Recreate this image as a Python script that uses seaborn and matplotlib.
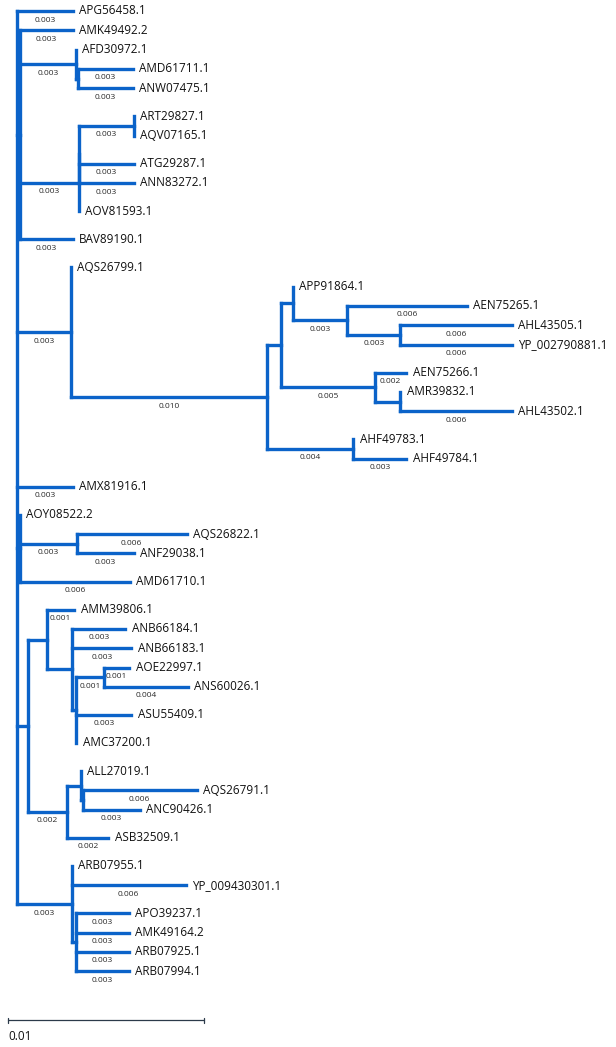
import matplotlib
matplotlib.use("Agg")
import numpy as np
import pandas as pd
import matplotlib.pyplot as plt
import seaborn as sns

# tip order, top to bottom
tips = ["APG56458.1", "AMK49492.2", "AFD30972.1", "AMD61711.1", "ANW07475.1",
        "ART29827.1", "AQV07165.1", "ATG29287.1", "ANN83272.1", "AOV81593.1",
        "BAV89190.1", "AQS26799.1", "APP91864.1", "AEN75265.1", "AHL43505.1",
        "YP_002790881.1", "AEN75266.1", "AMR39832.1", "AHL43502.1", "AHF49783.1",
        "AHF49784.1", "AMX81916.1", "AOY08522.2", "AQS26822.1", "ANF29038.1",
        "AMD61710.1", "AMM39806.1", "ANB66184.1", "ANB66183.1", "AOE22997.1",
        "ANS60026.1", "ASU55409.1", "AMC37200.1", "ALL27019.1", "AQS26791.1",
        "ANC90426.1", "ASB32509.1", "ARB07955.1", "YP_009430301.1", "APO39237.1",
        "AMK49164.2", "ARB07925.1", "ARB07994.1"]

# tips drawn after a wider row gap
wide_gap = ["ART29827.1", "ATG29287.1", "AOV81593.1", "BAV89190.1", "AQS26799.1",
            "AEN75266.1", "AHF49783.1", "AMX81916.1", "AOY08522.2", "AMD61710.1",
            "AMM39806.1", "ASU55409.1", "AMC37200.1", "ALL27019.1", "ASB32509.1",
            "ARB07955.1", "APO39237.1"]

# tree edges: child -> parent with branch length
child = ["APG56458.1", "n_a", "n_aqs", "AMX81916.1", "n_v", "n_w", "n_arb",
         "AMK49492.2", "n_afd", "n_c2", "BAV89190.1",
         "AFD30972.1", "n_afd2", "AMD61711.1", "ANW07475.1",
         "n_c2a", "AOV81593.1", "n_pair", "ATG29287.1", "ANN83272.1",
         "ART29827.1", "AQV07165.1",
         "AQS26799.1", "n_big", "n_p", "n_ahf", "n_q", "n_r",
         "APP91864.1", "n_s", "AEN75265.1", "n_t", "AHL43505.1", "YP_002790881.1",
         "AEN75266.1", "n_u", "AMR39832.1", "AHL43502.1",
         "AHF49783.1", "AHF49784.1",
         "AOY08522.2", "n_v2", "AMD61710.1", "AQS26822.1", "ANF29038.1",
         "n_x", "n_all0", "AMM39806.1", "n_y",
         "ANB66184.1", "ANB66183.1", "n_y1", "n_z", "ASU55409.1", "AMC37200.1",
         "AOE22997.1", "ANS60026.1",
         "n_all", "ASB32509.1", "ALL27019.1", "n_all2", "AQS26791.1", "ANC90426.1",
         "ARB07955.1", "YP_009430301.1", "n_arb2",
         "APO39237.1", "AMK49164.2", "ARB07925.1", "ARB07994.1"]
parent = ["root", "root", "root", "root", "root", "root", "root",
          "n_a", "n_a", "n_a", "n_a",
          "n_afd", "n_afd", "n_afd2", "n_afd2",
          "n_c2", "n_c2", "n_c2a", "n_c2a", "n_c2a",
          "n_pair", "n_pair",
          "n_aqs", "n_aqs", "n_big", "n_big", "n_p", "n_p",
          "n_q", "n_q", "n_s", "n_s", "n_t", "n_t",
          "n_r", "n_r", "n_u", "n_u",
          "n_ahf", "n_ahf",
          "n_v", "n_v", "n_v", "n_v2", "n_v2",
          "n_w", "n_w", "n_x", "n_x",
          "n_y", "n_y", "n_y", "n_y1", "n_y1", "n_y1",
          "n_z", "n_z",
          "n_all0", "n_all0", "n_all", "n_all", "n_all2", "n_all2",
          "n_arb", "n_arb", "n_arb",
          "n_arb2", "n_arb2", "n_arb2", "n_arb2"]
blen = [0.00286, 0.00015, 0.00276, 0.00286, 0.00015, 0.00056, 0.0028,
        0.0027, 0.00286, 0.0030, 0.0027,
        0.0, 0.0001, 0.0028, 0.0028,
        0.0, 0.0, 0.0028, 0.0028, 0.0028,
        0.0, 0.0,
        0.0, 0.0100, 0.0007, 0.0044, 0.0006, 0.0048,
        0.0, 0.0028, 0.0061, 0.0027, 0.0057, 0.0057,
        0.0016, 0.0013, 0.0, 0.0057,
        0.0, 0.0027,
        0.0, 0.0029, 0.0056, 0.0056, 0.0029,
        0.00097, 0.0020, 0.0014, 0.0013,
        0.0027, 0.0030, 0.0002, 0.0014, 0.0028, 0.0,
        0.0013, 0.0043,
        0.0007, 0.0021, 0.0, 0.0001, 0.0058, 0.0029,
        0.0, 0.0058, 0.0002,
        0.0027, 0.0027, 0.0027, 0.0027]

# internal branches drawn without a length label
no_label = ["n_p", "n_q", "n_u", "n_w", "n_x", "n_y", "n_all"]

scale_len = 0.01

PX = 19600.0          # pixels per substitution unit
X0 = 17               # root position in pixels
blue = "#0b63c9"

# ---- layout ----
ypos = {}
y = 11.0
for i, t in enumerate(tips):
    if i > 0:
        y += 28.1 if t in wide_gap else 19.3
    ypos[t] = y

kids = {}
for c, p in zip(child, parent):
    kids.setdefault(p, []).append(c)
length = dict(zip(child, blen))

xpos = {"root": 0.0}
def set_x(node):
    for c in kids.get(node, []):
        xpos[c] = xpos[node] + length[c]
        set_x(c)
set_x("root")

def set_y(node):
    if node in ypos:
        return ypos[node]
    ys = [set_y(c) for c in kids[node]]
    ypos[node] = (min(ys) + max(ys)) / 2
    return ypos[node]
set_y("root")

rows = []
seg = 0
for c, p in zip(child, parent):
    if length[c] > 1e-6:
        rows.append((seg, xpos[p], ypos[c]))
        rows.append((seg, xpos[c], ypos[c]))
        seg += 1
for node, ks in kids.items():
    ys = [ypos[k] for k in ks]
    rows.append((seg, xpos[node], min(ys)))
    rows.append((seg, xpos[node], max(ys)))
    seg += 1
segs = pd.DataFrame(rows, columns=["seg", "x", "y"])

# ---- drawing ----
sns.set_style("white")
plt.rcParams["font.family"] = ["Open Sans", "DejaVu Sans"]

fig = plt.figure(figsize=(6.16, 10.47), dpi=100)
ax = fig.add_axes([0, 0, 1, 1])

sns.lineplot(data=segs, x="x", y="y", units="seg", estimator=None, sort=False,
             color=blue, linewidth=2.4, solid_capstyle="projecting",
             legend=False, ax=ax)

for t in tips:
    ax.annotate(t, (xpos[t], ypos[t]), xytext=(4.5, 0), textcoords="offset points",
                ha="left", va="center", fontsize=8.5, color="#111111")

for c in child:
    L = length[c]
    if round(L, 3) >= 0.001 and c not in no_label:
        xm = xpos[c] - L / 2
        ax.text(xm, ypos[c] + 9, f"{L:.3f}", ha="center", va="center",
                fontsize=6.0, color="#2a2a2a")

# scale bar
sx0 = (8 - X0) / PX
ax.plot([sx0, sx0 + scale_len], [1020, 1020], color="#2b3a4a", lw=0.9)
for sx in (sx0, sx0 + scale_len):
    ax.plot([sx, sx], [1017.5, 1022.5], color="#2b3a4a", lw=0.9)
ax.text(sx0, 1037, f"{scale_len:g}", ha="left", va="center", fontsize=8.5,
        color="#111111")

ax.set_xlim(-X0 / PX, (616 - X0) / PX)
ax.set_ylim(1047, 0)
ax.set_axis_off()

fig.savefig("out.png", dpi=100, facecolor="white")
